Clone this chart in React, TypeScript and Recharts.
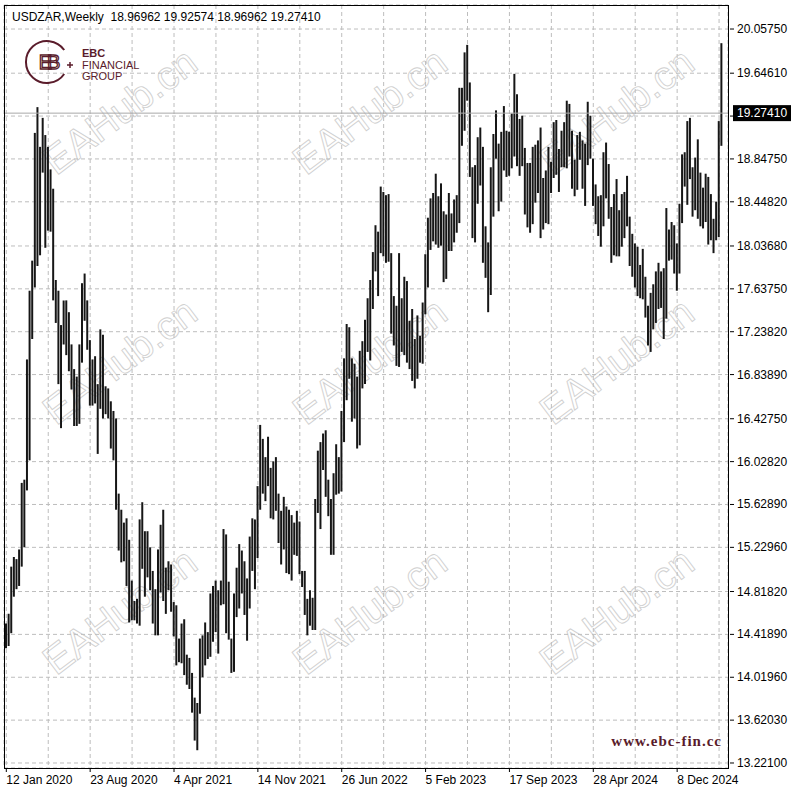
import React from 'react';
import { ComposedChart, Bar, XAxis, YAxis, CartesianGrid, ReferenceLine } from 'recharts';

const symbol = 'USDZAR';
const period = 'Weekly';

// last bar, shown in the header line
const lastOpen = 18.96962;
const lastHigh = 19.92574;
const lastLow = 18.96962;
const lastClose = 19.2741;

// weekly highs, 12 Jan 2020 .. 6 Apr 2025
const highs = [
  14.52, 14.61, 15.05, 15.14, 15.12, 15.21, 15.83, 15.86, 16.98, 17.62,
  17.9, 19.09, 19.33, 18.96, 19.23, 19.07, 18.96, 18.75, 18.57, 17.72,
  17.62, 17.3, 17.53, 17.53, 17.42, 17.12, 16.89, 16.82, 17.12, 17.69,
  17.78, 17.53, 17.16, 16.98, 17.01, 16.75, 17.26, 17.21, 16.73, 16.71,
  16.59, 16.5, 16.43, 15.73, 15.58, 15.46, 15.5, 15.3, 14.92, 14.73,
  14.75, 15.49, 15.65, 15.38, 15.38, 15.23, 15.01, 14.84, 15.21, 15.44,
  15.58, 15.04, 15.1, 15.07, 14.72, 14.69, 14.38, 14.52, 14.56, 14.23,
  14.2, 14.06, 13.83, 13.78, 14.38, 14.41, 14.53, 14.44, 14.8, 14.87,
  14.92, 14.83, 14.92, 15.4, 15.35, 14.91, 14.38, 14.8, 15.04, 15.26,
  15.2, 15.1, 14.94, 15.33, 15.5, 15.49, 15.8, 16.37, 16.24, 16.07,
  16.26, 15.97, 16.03, 16.07, 15.73, 15.57, 15.7, 15.61, 15.58, 15.53,
  15.46, 15.57, 15.47, 15.01, 15.01, 14.75, 14.83, 14.76, 15.68, 16.13,
  16.21, 16.29, 16.32, 15.86, 15.68, 15.92, 16.19, 16.07, 16.5, 16.99,
  17.31, 17.28, 16.99, 16.94, 16.82, 17.06, 17.15, 17.35, 17.55, 17.72,
  17.98, 18.23, 18.17, 18.59, 18.54, 18.51, 18.52, 17.97, 17.57, 17.48,
  17.97, 17.55, 17.75, 17.71, 17.34, 17.45, 17.17, 17.39, 17.2, 17.51,
  17.96, 18.3, 18.48, 18.53, 18.71, 18.5, 18.62, 18.36, 18.33, 18.53,
  18.34, 18.47, 18.51, 19.51, 19.51, 19.84, 19.91, 19.56, 18.77, 18.79,
  19.05, 19.14, 18.96, 18.22, 18.07, 18.77, 19.08, 19.3, 18.99, 19.1,
  19.34, 19.11, 19.1, 19.27, 19.64, 19.45, 19.22, 19.25, 18.95, 18.81,
  18.81, 18.96, 18.98, 19.02, 19.14, 18.67, 18.74, 18.96, 18.82, 19.19,
  19.21, 18.94, 19.11, 19.19, 19.39, 19.36, 19.11, 18.84, 19.07, 19.1,
  19.02, 18.99, 19.38, 19.25, 18.85, 18.61, 18.5, 18.51, 18.91, 19.0,
  18.8, 18.4, 18.52, 18.66, 18.37, 18.52, 18.54, 18.69, 18.31, 18.15,
  18.06, 18.03, 17.86, 18.01, 17.75, 17.48, 17.6, 17.68, 17.8, 17.88,
  17.8, 17.83, 18.39, 18.19, 18.26, 18.23, 18.06, 18.43, 18.89, 18.91,
  19.2, 19.23, 18.77, 18.86, 19.03, 18.72, 18.58, 18.71, 18.68, 18.52,
  18.29, 18.45, 19.2, 19.92574,
];

const lows = [
  14.29, 14.31, 14.43, 14.77, 14.84, 14.87, 15.05, 15.23, 15.76, 16.04,
  17.17, 17.65, 17.85, 17.95, 18.72, 18.02, 18.18, 18.17, 17.53, 17.32,
  16.75, 16.34, 17.12, 17.02, 16.87, 16.7, 16.36, 16.36, 16.38, 16.95,
  17.34, 17.07, 16.55, 16.55, 16.57, 16.1, 16.52, 16.43, 16.47, 16.43,
  16.15, 16.04, 15.58, 15.2, 15.09, 15.1, 14.87, 14.53, 14.55, 14.55,
  14.52, 14.5, 15.03, 14.77, 14.95, 14.83, 14.52, 14.41, 14.41, 14.81,
  14.73, 14.61, 14.83, 14.63, 14.4, 14.13, 14.16, 14.15, 14.04, 13.95,
  13.91, 13.69, 13.43, 13.34, 13.68, 14.02, 14.13, 14.19, 14.21, 14.35,
  14.44, 14.24, 14.69, 14.7, 14.43, 14.37, 14.06, 14.07, 14.58, 14.66,
  14.8, 14.6, 14.36, 14.66, 15.01, 14.84, 15.13, 15.58, 15.73, 15.66,
  15.8, 15.5, 15.49, 15.57, 15.27, 15.07, 15.21, 14.99, 14.98, 14.92,
  15.16, 15.15, 14.98, 14.86, 14.6, 14.41, 14.5, 14.46, 14.46, 15.55,
  15.4, 15.95, 15.7, 15.52, 15.16, 15.16, 15.72, 15.73, 15.75, 16.21,
  16.6, 16.8, 16.4, 16.43, 16.15, 16.18, 16.71, 16.75, 17.05, 16.97,
  17.45, 17.8, 17.57, 17.97, 17.94, 17.88, 17.89, 17.22, 17.11, 16.92,
  16.91, 17.05, 17.02, 16.95, 16.89, 16.78, 16.71, 16.8, 16.95, 16.94,
  17.4, 17.65, 18.0, 18.08, 18.05, 18.02, 18.04, 17.7, 17.73, 17.99,
  17.99, 18.07, 18.16, 18.25, 18.97, 19.11, 19.39, 18.68, 18.11, 18.07,
  18.43, 18.6, 17.88, 17.74, 17.42, 17.58, 18.31, 18.85, 18.36, 18.45,
  18.74, 18.68, 18.69, 18.76, 18.87, 18.78, 18.69, 18.78, 18.33, 18.21,
  18.16, 18.24, 18.44, 18.53, 18.11, 18.19, 18.25, 18.24, 18.53, 18.67,
  18.7, 18.54, 18.77, 18.77, 18.76, 18.87, 18.57, 18.5, 18.56, 18.84,
  18.57, 18.41, 18.79, 18.85, 18.41, 18.24, 18.13, 18.03, 18.22, 18.48,
  18.29, 17.88, 17.95, 17.94, 17.94, 18.03, 18.11, 18.22, 17.85, 17.75,
  17.65, 17.57, 17.55, 17.54, 17.37, 17.11, 17.05, 17.26, 17.32, 17.45,
  17.46, 17.17, 17.36, 17.9, 17.91, 17.78, 17.62, 17.78, 18.25, 18.59,
  18.42, 18.66, 18.31, 18.37, 18.29, 18.22, 18.2, 18.26, 18.05, 18.09,
  17.97, 18.09, 18.12, 18.96962,
];

const xLabels = [
  '12 Jan 2020', '23 Aug 2020', '4 Apr 2021', '14 Nov 2021', '26 Jun 2022',
  '5 Feb 2023', '17 Sep 2023', '28 Apr 2024', '8 Dec 2024',
];
const xLabelIdx = [0, 32, 64, 96, 128, 160, 192, 224, 256];
const gridIdx = [0, 16, 32, 48, 64, 80, 96, 112, 128, 144, 160, 176, 192, 208, 224, 240, 256, 272];

const yTicks = [
  13.221, 13.6203, 14.0196, 14.4189, 14.8182, 15.2296, 15.6289, 16.0282, 16.4275,
  16.8389, 17.2382, 17.6375, 18.0368, 18.4482, 18.8475, 19.2468, 19.6461, 20.0575,
];

const FONT = '"Liberation Sans", Arial, sans-serif';
const MAROON = '#5a1c2b';
const GRID = '#bdbdbd';

const data = highs.map((h, i) => ({ i, range: [lows[i], h] }));

const XTick = (props: any) => {
  const { x, y, payload } = props;
  const k = xLabelIdx.indexOf(payload.value);
  if (k < 0) return <g />;
  return (
    <g>
      <line x1={x} x2={x} y1={y} y2={y + 4} stroke="#000" />
      <text x={x} y={y + 16} fontSize={12} fontFamily={FONT} fill="#000">
        {xLabels[k]}
      </text>
    </g>
  );
};

const YTick = (props: any) => {
  const { x, y, payload } = props;
  const hidden = Math.abs(payload.value - 19.2468) < 1e-6;
  return (
    <g>
      <line x1={x + 2} x2={x + 6} y1={y} y2={y} stroke="#000" />
      {!hidden && (
        <text x={x + 9} y={y + 4} fontSize={12} fontFamily={FONT} fill="#000">
          {payload.value.toFixed(5)}
        </text>
      )}
    </g>
  );
};

const PriceLabel = (props: any) => {
  const { viewBox } = props;
  const right = viewBox.x + viewBox.width;
  const y = viewBox.y;
  return (
    <g>
      <rect x={right + 5} y={y - 8} width={58} height={16} fill="#000" />
      <text x={right + 9} y={y + 4} fontSize={12} fontFamily={FONT} fill="#fff">
        {lastClose.toFixed(5)}
      </text>
    </g>
  );
};

const watermarkSpots = [
  [128, 122], [378, 122], [625, 122],
  [128, 372], [378, 372], [625, 372],
  [128, 622], [378, 622], [625, 622],
];

export default function App() {
  const header = `${symbol},${period}  ${lastOpen.toFixed(5)} ${lastHigh.toFixed(5)} ${lastLow.toFixed(5)} ${lastClose.toFixed(5)}`;

  return (
    <div style={{ position: 'absolute', left: 0, top: 0, width: 800, height: 795, background: '#fff', overflow: 'hidden' }}>
      <svg width={800} height={795} style={{ position: 'absolute', left: 0, top: 0 }}>
        {watermarkSpots.map(([cx, cy], n) => (
          <text
            key={n}
            transform={`translate(${cx},${cy}) rotate(-37)`}
            textAnchor="middle"
            fontSize={40}
            fontFamily={FONT}
            fill="none"
            stroke="#d0d0d0"
            strokeWidth={0.9}
          >
            EAHub.cn
          </text>
        ))}
      </svg>

      <div style={{ position: 'absolute', left: 0, top: 0 }}>
        <ComposedChart width={800} height={795} data={data} margin={{ top: 5, right: 0, bottom: 0, left: 4 }}>
          <CartesianGrid stroke={GRID} strokeDasharray="4 3" />
          <XAxis
            dataKey="i"
            type="category"
            ticks={gridIdx}
            interval={0}
            padding={{ left: 1, right: 5 }}
            height={27}
            tickSize={0}
            tickMargin={0}
            tickLine={false}
            axisLine={false}
            tick={<XTick />}
          />
          <YAxis
            orientation="right"
            type="number"
            domain={[13.1744, 20.2813]}
            ticks={yTicks}
            interval={0}
            allowDataOverflow
            width={72}
            tickSize={0}
            tickMargin={0}
            tickLine={false}
            axisLine={false}
            tick={<YTick />}
          />
          <ReferenceLine y={lastClose} stroke="#a8a8a8" label={<PriceLabel />} />
          <Bar dataKey="range" barSize={2} fill="#161616" isAnimationActive={false} />
        </ComposedChart>
      </div>

      <svg width={800} height={795} style={{ position: 'absolute', left: 0, top: 0, pointerEvents: 'none' }}>
        <rect x={4.5} y={5.5} width={724} height={763} fill="none" stroke="#000" />
        <text x={12} y={21} fontSize={12} fontFamily={FONT} fill="#000" style={{ whiteSpace: 'pre' }}>
          {header}
        </text>
        <g fill="none" stroke={MAROON}>
          <path d="M 64.2 50 A 21 21 0 1 0 64.2 74" strokeWidth={2} />
          <line x1={67} x2={73} y1={65} y2={65} strokeWidth={1.5} />
          <line x1={70} x2={70} y1={62} y2={68} strokeWidth={1.5} />
          <text x={47} y={69} textAnchor="middle" fontSize={20} fontFamily={FONT} strokeWidth={1.3} letterSpacing={-5}>
            EB
          </text>
        </g>
        <text x={82} y={57} fontSize={11} fontWeight="bold" fontFamily={FONT} fill={MAROON}>EBC</text>
        <text x={82} y={69} fontSize={11} fontFamily={FONT} fill={MAROON}>FINANCIAL</text>
        <text x={82} y={80} fontSize={11} fontFamily={FONT} fill={MAROON}>GROUP</text>
        <text
          x={722}
          y={746}
          textAnchor="end"
          fontSize={15}
          fontWeight="bold"
          letterSpacing={1}
          fontFamily='"Liberation Serif", "Times New Roman", serif'
          fill={MAROON}
        >
          www.ebc-fin.cc
        </text>
      </svg>
    </div>
  );
}
